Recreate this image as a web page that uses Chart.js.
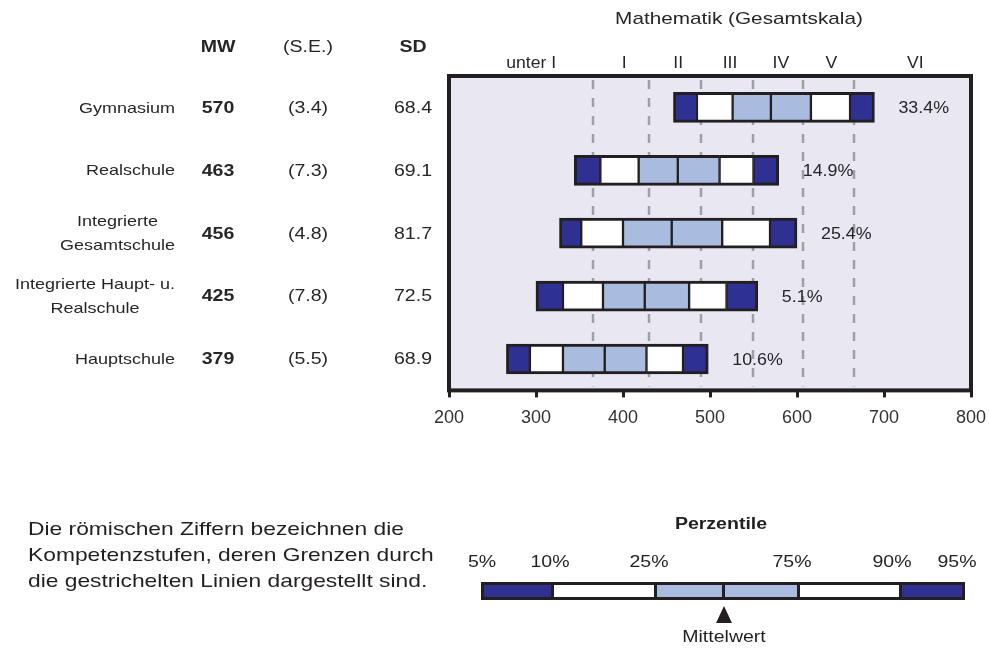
<!DOCTYPE html>
<html lang="de">
<head>
<meta charset="utf-8">
<title>Mathematik (Gesamtskala) nach Schulform</title>
<script src="https://cdn.jsdelivr.net/npm/chart.js@4.4.1/dist/chart.umd.min.js"></script>
<style>
  html, body { margin: 0; padding: 0; background: #fff; }
  body { width: 989px; height: 648px; position: relative; overflow: hidden;
         font-family: "Liberation Sans", Arial, sans-serif; color: #231F20; }
  #chart { position: absolute; left: 0; top: 0; }
  .t { position: absolute; white-space: nowrap; line-height: 1; font-size: 19px;
       transform: translateY(-50%) scaleX(1.2); transform-origin: 0 50%; }
  .c { position: absolute; white-space: nowrap; line-height: 1; font-size: 16px;
       transform: translate(-50%, -50%) scaleX(1.22); }
  .legend-bar { position: absolute; left: 481px; top: 582px; width: 484px; height: 18px;
                box-sizing: border-box; border: 3px solid #231F20; display: flex; }
  .legend-bar div { height: 100%; box-sizing: border-box; }
  .tri { position: absolute; left: 716px; top: 606px; width: 0; height: 0;
         border-left: 8px solid transparent; border-right: 8px solid transparent;
         border-bottom: 17px solid #231F20; }
</style>
</head>
<body>
<canvas id="chart" width="989" height="648"></canvas>

<div class="t" style="left:28px; top:528px;">Die römischen Ziffern bezeichnen die</div>
<div class="t" style="left:28px; top:554px;">Kompetenzstufen, deren Grenzen durch</div>
<div class="t" style="left:28px; top:580px;">die gestrichelten Linien dargestellt sind.</div>

<div class="c" style="left:721px; top:524px; font-weight:bold;">Perzentile</div>
<div class="c" style="left:482px; top:562px;">5%</div>
<div class="c" style="left:550px; top:562px;">10%</div>
<div class="c" style="left:649px; top:562px;">25%</div>
<div class="c" style="left:792px; top:562px;">75%</div>
<div class="c" style="left:892px; top:562px;">90%</div>
<div class="c" style="left:957px; top:562px;">95%</div>
<div class="legend-bar">
  <div style="width:67px; background:#2E3192;"></div>
  <div style="width:103px; background:#fff; border-left:3px solid #231F20;"></div>
  <div style="width:68px; background:#AABBE0; border-left:3px solid #231F20;"></div>
  <div style="width:75px; background:#AABBE0; border-left:3px solid #231F20;"></div>
  <div style="width:102px; background:#fff; border-left:3px solid #231F20;"></div>
  <div style="width:63px; background:#2E3192; border-left:3px solid #231F20;"></div>
</div>
<div class="tri"></div>
<div class="c" style="left:724px; top:637px;">Mittelwert</div>

<script>
// Schulformen and their table values
const schools = ['Gymnasium', 'Realschule', ['Integrierte', 'Gesamtschule'], ['Integrierte Haupt- u.', 'Realschule'], 'Hauptschule'];
const meanValues = [570, 463, 456, 425, 379];
const seValues = ['(3.4)', '(7.3)', '(4.8)', '(7.8)', '(5.5)'];
const sdValues = ['68.4', '69.1', '81.7', '72.5', '68.9'];
const shareLabels = ['33.4%', '14.9%', '25.4%', '5.1%', '10.6%'];

// Percentiles
const p05 = [458, 344, 327, 300, 266];
const p10 = [485, 374, 352, 331, 293];
const p25 = [526, 418, 400, 377, 331];
const p75 = [616, 511, 514, 476, 427];
const p90 = [661, 550, 569, 519, 469];
const p95 = [689, 579, 600, 555, 498];

// Kompetenzstufen
const levelBounds = [366, 430, 490, 549, 607, 665];
const levelNames = ['unter I', 'I', 'II', 'III', 'IV', 'V', 'VI'];

const xMin = 200;
const xMax = 800;
const xStep = 100;

const DARK = '#2E3192';
const LIGHT = '#AABBE0';
const INK = '#231F20';
const TEXT = '#262626';
const FONT = '"Liberation Sans", Arial, sans-serif';

// segment boundaries, left to right
const bounds = [p05, p10, p25, meanValues, p75, p90, p95];
const segColors = [DARK, '#FFFFFF', LIGHT, LIGHT, '#FFFFFF', DARK];

const datasets = segColors.map((color, k) => ({
    data: schools.map((_, i) => [bounds[k][i], bounds[k + 1][i]]),
    backgroundColor: color,
    borderColor: INK,
    borderWidth: {
        top: 3,
        bottom: 3,
        left: k === 0 ? 3 : 1.5,
        right: k === segColors.length - 1 ? 3 : 1.5
    },
    borderSkipped: false,
    barThickness: 30,
    grouped: false
}));

// draw text stretched horizontally
function drawText(ctx, text, x, y, align, font, sx) {
    ctx.save();
    ctx.font = font;
    ctx.fillStyle = TEXT;
    ctx.textBaseline = 'middle';
    ctx.textAlign = align;
    ctx.translate(x, y);
    ctx.scale(sx, 1);
    ctx.fillText(text, 0, 0);
    ctx.restore();
}

const decorations = {
    id: 'decorations',
    beforeDraw(chart) {
        const { ctx, chartArea: a } = chart;
        ctx.save();
        ctx.fillStyle = '#E8E7F2';
        ctx.fillRect(a.left, a.top, a.right - a.left, a.bottom - a.top);
        ctx.restore();
    },
    beforeDatasetsDraw(chart) {
        const { ctx, chartArea: a } = chart;
        const x = chart.scales.x;
        ctx.save();
        ctx.strokeStyle = '#9CA1A8';
        ctx.lineWidth = 2.5;
        ctx.setLineDash([9, 9]);
        levelBounds.forEach(v => {
            const px = Math.round(x.getPixelForValue(v));
            ctx.beginPath();
            ctx.moveTo(px, a.top + 4);
            ctx.lineTo(px, a.bottom - 4);
            ctx.stroke();
        });
        ctx.restore();
    },
    afterDatasetsDraw(chart) {
        const { ctx, chartArea: a } = chart;
        const x = chart.scales.x;
        const y = chart.scales.y;

        // frame
        ctx.save();
        ctx.strokeStyle = INK;
        ctx.lineWidth = 4;
        ctx.strokeRect(a.left, a.top, a.right - a.left, a.bottom - a.top);
        ctx.restore();

        // share of students next to each bar
        shareLabels.forEach((t, i) => {
            drawText(ctx, t, x.getPixelForValue(p95[i]) + 24, y.getPixelForValue(i) + 1, 'left', '17px ' + FONT, 1.05);
        });
    },
    afterDraw(chart) {
        const { ctx, chartArea: a } = chart;
        const x = chart.scales.x;
        const y = chart.scales.y;

        // title and level names
        drawText(ctx, 'Mathematik (Gesamtskala)', 739, 19, 'center', '17px ' + FONT, 1.22);
        const edges = [xMin, ...levelBounds, xMax];
        levelNames.forEach((n, i) => {
            const mid = (edges[i] + edges[i + 1]) / 2;
            drawText(ctx, n, x.getPixelForValue(mid) + (i === 0 ? 10 : 3), 64, 'center', '16px ' + FONT, 1.1);
        });

        // table headers
        drawText(ctx, 'MW', 218, 48, 'center', 'bold 16px ' + FONT, 1.22);
        drawText(ctx, '(S.E.)', 308, 48, 'center', '16px ' + FONT, 1.22);
        drawText(ctx, 'SD', 413, 48, 'center', 'bold 16px ' + FONT, 1.22);

        // table rows
        schools.forEach((s, i) => {
            const cy = y.getPixelForValue(i) + 1;
            if (Array.isArray(s)) {
                ctx.font = '15px ' + FONT;
                const w = Math.max(...s.map(line => ctx.measureText(line).width * 1.2));
                const cx = 175 - w / 2;
                drawText(ctx, s[0], cx, cy - 12, 'center', '15px ' + FONT, 1.2);
                drawText(ctx, s[1], cx, cy + 12, 'center', '15px ' + FONT, 1.2);
            } else {
                drawText(ctx, s, 175, cy, 'right', '15px ' + FONT, 1.2);
            }
            drawText(ctx, String(meanValues[i]), 218, cy, 'center', 'bold 16px ' + FONT, 1.22);
            drawText(ctx, seValues[i], 308, cy, 'center', '16px ' + FONT, 1.22);
            drawText(ctx, sdValues[i], 432, cy, 'right', '16px ' + FONT, 1.22);
        });
    }
};

new Chart(document.getElementById('chart'), {
    type: 'bar',
    data: {
        labels: schools.map(s => Array.isArray(s) ? s.join(' ') : s),
        datasets: datasets
    },
    options: {
        indexAxis: 'y',
        responsive: false,
        devicePixelRatio: 1,
        animation: false,
        layout: {
            padding: { left: 449, right: 18, top: 76, bottom: 209 }
        },
        plugins: {
            legend: { display: false },
            tooltip: { enabled: false }
        },
        scales: {
            x: {
                type: 'linear',
                min: xMin,
                max: xMax,
                afterFit(scale) {
                    scale.paddingLeft = 0;
                    scale.paddingRight = 0;
                },
                ticks: {
                    stepSize: xStep,
                    padding: 10,
                    color: '#333',
                    font: { family: FONT, size: 18 }
                },
                grid: {
                    drawOnChartArea: false,
                    drawTicks: true,
                    tickLength: 7,
                    tickWidth: 3,
                    tickColor: INK
                },
                border: { display: false }
            },
            y: {
                display: false,
                offset: true
            }
        }
    },
    plugins: [decorations]
});
</script>
</body>
</html>
